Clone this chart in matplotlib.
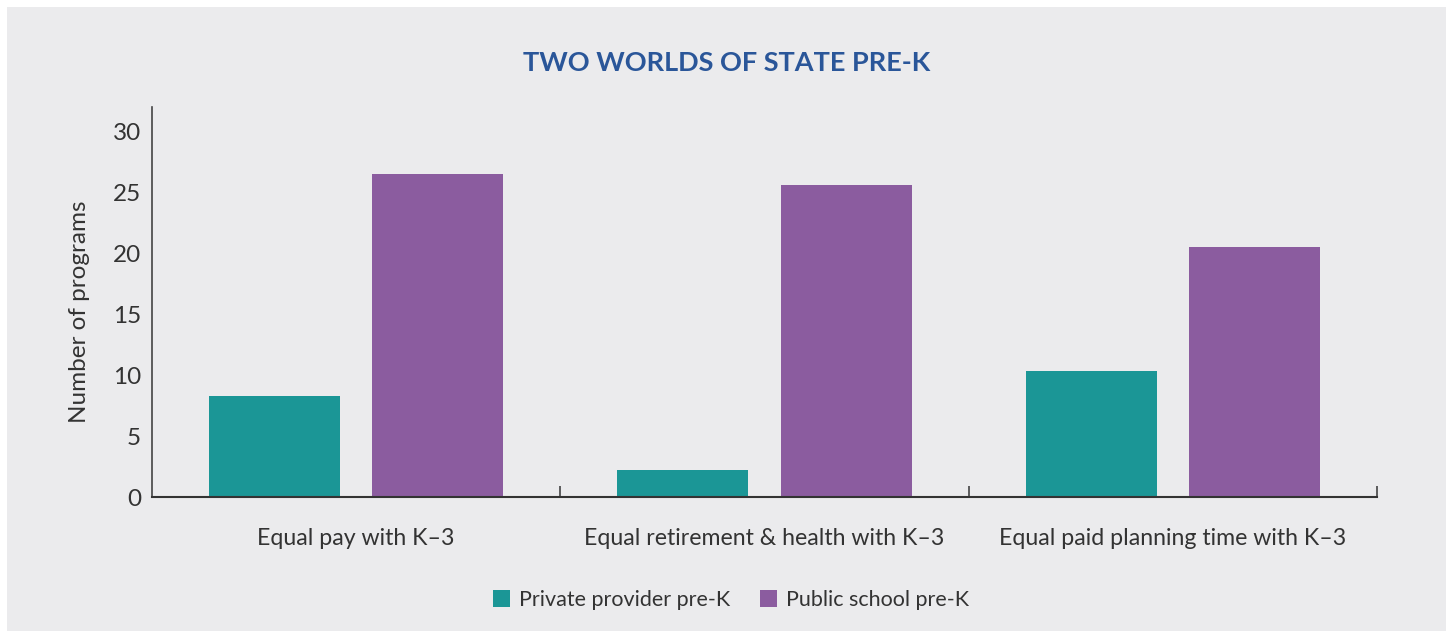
import numpy as np
import matplotlib.pyplot as plt
from matplotlib.patches import Rectangle, Patch

# Dados
categorias = ['Equal pay with K\u20133', 'Equal retirement & health with K\u20133',
              'Equal paid planning time with K\u20133']
privado = [8.3, 2.2, 10.3]
publico = [26.5, 25.6, 20.5]
series = ['Private provider pre-K', 'Public school pre-K']
yticks = [0, 5, 10, 15, 20, 25, 30]

cor_privado = '#1b9696'
cor_publico = '#8b5c9f'
fundo = '#ebebed'
texto = '#333333'

plt.rcParams['font.family'] = ['Lato', 'DejaVu Sans']

fig = plt.figure(figsize=(14.53, 6.31), dpi=100, facecolor='white')
fig.patches.append(Rectangle((7 / 1453, 0), (1446 - 7) / 1453, (631 - 7) / 631,
                             transform=fig.transFigure, facecolor=fundo,
                             edgecolor='none', zorder=-5))

ax = fig.add_axes([152 / 1453, 134 / 631, 1225 / 1453, 390 / 631])
ax.set_facecolor(fundo)

x = np.arange(len(categorias))
largura = 0.321
ax.bar(x - 0.2, privado, largura, color=cor_privado, label=series[0])
ax.bar(x + 0.2, publico, largura, color=cor_publico, label=series[1])

ax.set_xlim(-0.5, 2.5)
ax.set_ylim(0, 32)
ax.set_yticks(yticks)
ax.set_xticks(x)
ax.set_xticklabels(categorias, fontsize=16.7, color=texto)
ax.set_xticks([0.5, 1.5, 2.5], minor=True)
ax.tick_params(axis='x', which='major', length=0, pad=22)
ax.tick_params(axis='x', which='minor', direction='in', length=8, width=1.2, color='#444444')
ax.tick_params(axis='y', length=0, pad=8, labelsize=17.5, labelcolor=texto)

for lado in ['top', 'right']:
    ax.spines[lado].set_visible(False)
ax.spines['left'].set_color('#444444')
ax.spines['bottom'].set_color('#333333')
ax.spines['left'].set_linewidth(1.2)
ax.spines['bottom'].set_linewidth(1.5)

ax.set_ylabel('Number of programs', fontsize=17.5, color=texto, labelpad=16, y=0.475)

fig.text(727 / 1453, 1 - 63 / 631, 'TWO WORLDS OF STATE PRE-K', ha='center', va='center',
         fontsize=19.5, fontweight='bold', color='#2a5699')

alcas = [Patch(facecolor=cor_privado), Patch(facecolor=cor_publico)]
fig.legend(alcas, series, loc='center', bbox_to_anchor=(731 / 1453, 1 - 600 / 631),
           ncol=2, frameon=False, fontsize=15.5, handlelength=0.8, handleheight=0.8,
           handletextpad=0.4, columnspacing=1.4, labelcolor=texto)

fig.savefig('out.png', dpi=100, facecolor=fig.get_facecolor())
